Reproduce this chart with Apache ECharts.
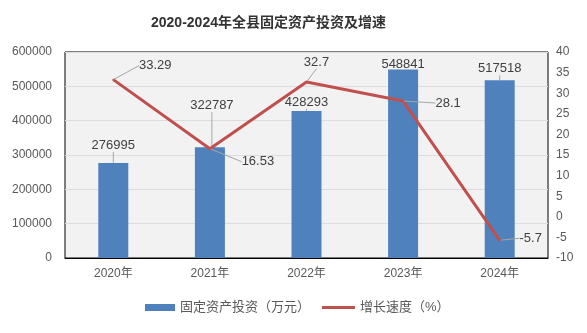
<!DOCTYPE html>
<html><head><meta charset="utf-8">
<script src="https://cdn.jsdelivr.net/npm/echarts@6/dist/echarts.min.js"></script>
<style>html,body{margin:0;padding:0;background:#fff}#c{width:587px;height:333px}</style>
</head><body><div id="c"></div>
<script>
const categories = ['2020年','2021年','2022年','2023年','2024年'];
const investment = [276995, 322787, 428293, 548841, 517518];
const growth = [33.29, 16.53, 32.7, 28.1, -5.7];
const leftTicks = {min:0, max:600000, interval:100000};
const rightTicks = {min:-10, max:40, interval:5};
const barName = '固定资产投资（万元）';
const lineName = '增长速度（%）';

const FONT = "'Liberation Sans','Noto Sans CJK SC',sans-serif";
const lineOffsets = [[42,-14],[48,13],[10,-20],[45,2],[31,-2]];
const barOffsets = [[0,-6],[2,-30],[0,3],[0,6],[0,0]];

const chart = echarts.init(document.getElementById('c'));
chart.setOption({
  animation:false,
  textStyle:{fontFamily:FONT},
  title:{text:'2020-2024年全县固定资产投资及增速', left:146, top:11,
    textStyle:{fontSize:14, fontWeight:'bold', color:'#333', fontFamily:FONT}},
  legend:[
    {data:[{name:barName, icon:'rect'}], left:140, top:296, itemWidth:30, itemHeight:7, itemGap:5,
      textStyle:{fontSize:13, color:'#595959'}},
    {data:[{name:lineName, icon:'rect'}], left:317, top:296, itemWidth:33, itemHeight:3, itemGap:4,
      textStyle:{fontSize:13, color:'#595959'}}
  ],
  grid:{left:65, right:39, top:52, bottom:75, show:true, backgroundColor:'#f2f2f2', borderColor:'#000', borderWidth:1},
  xAxis:{type:'category', data:categories, boundaryGap:true,
    axisLine:{lineStyle:{color:'#000'}},
    axisTick:{show:false},
    axisLabel:{fontSize:12, color:'#595959', margin:10}},
  yAxis:[
    {type:'value', min:leftTicks.min, max:leftTicks.max, interval:leftTicks.interval,
      axisLine:{show:false}, axisTick:{show:false},
      axisLabel:{fontSize:12, color:'#595959', margin:13, formatter:function(v){return String(v);}},
      splitLine:{lineStyle:{color:'#dcdcdc'}}},
    {type:'value', min:rightTicks.min, max:rightTicks.max, interval:rightTicks.interval,
      axisLine:{show:false}, axisTick:{show:false},
      axisLabel:{fontSize:12, color:'#595959', margin:8},
      splitLine:{show:false}}
  ],
  series:[
    {name:barName, type:'bar', data:investment, barWidth:30, yAxisIndex:0,
      itemStyle:{color:'#4f81bd'},
      label:{show:true, position:'top', fontSize:13, color:'#404040'},
      labelLine:{show:true, lineStyle:{color:'#a6a6a6', width:1}},
      labelLayout:function(p){const o=barOffsets[p.dataIndex];return {dx:o[0], dy:o[1]};}},
    {name:lineName, type:'line', data:growth, yAxisIndex:1,
      symbol:'circle', symbolSize:2, showSymbol:true,
      lineStyle:{color:'#c0504d', width:3}, itemStyle:{color:'#c0504d'},
      label:{show:true, position:'inside', fontSize:13, color:'#404040'},
      labelLine:{show:true, lineStyle:{color:'#a6a6a6', width:1}},
      labelLayout:function(p){const o=lineOffsets[p.dataIndex];return {dx:o[0], dy:o[1]};}}
  ]
});
</script></body></html>
